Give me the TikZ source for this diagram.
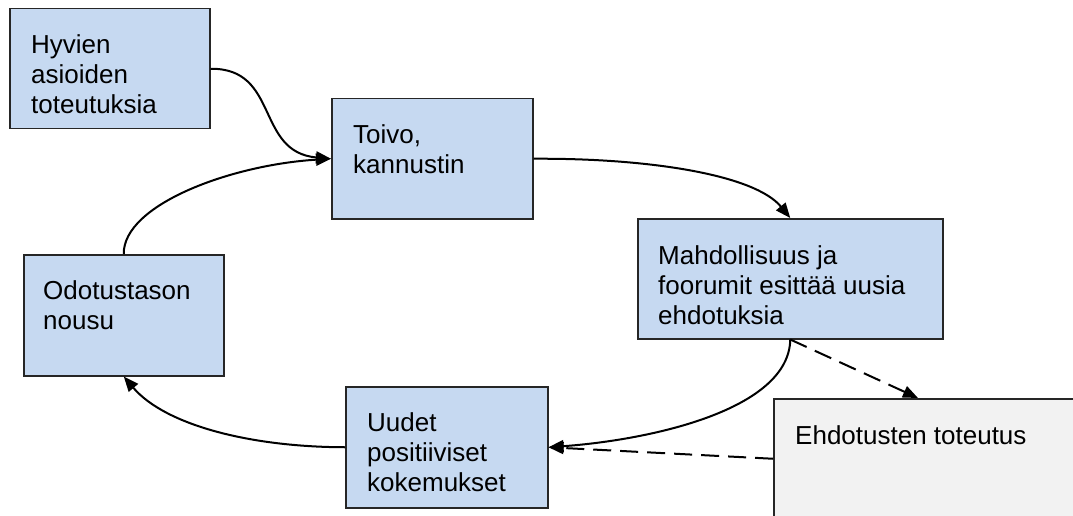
\documentclass[tikz,border=0pt]{standalone}
\usepackage{fontspec}
\setmainfont{Liberation Sans}
\usetikzlibrary{positioning,calc,arrows.meta}

\definecolor{stageblue}{HTML}{C6D9F1}
\definecolor{stagegray}{HTML}{F2F2F2}

\tikzset{
	stage/.style={draw=black!85, line width=1.5pt, fill=stageblue, anchor=north west, inner sep=0pt},
	stagetext/.style={anchor=north west, inner sep=0pt, align=left, font=\fontsize{26}{30}\selectfont},
	flow/.style={line width=2pt, -{Triangle[length=15pt,width=12pt]}},
	sideflow/.style={flow, dash pattern=on 18pt off 9pt},
}

\begin{document}
\begin{tikzpicture}[x=1pt,y=-1pt]
		\useasboundingbox (0,0) rectangle (1073,516);
		\clip (0,0) rectangle (1073,516);
	
		% boxes of the cycle
		\node[stage, minimum width=200pt, minimum height=120pt] (hyvien) at (9,8) {};
		\node[stage, minimum width=201pt, minimum height=120pt] (toivo) at (331,98) {};
		\node[stage, minimum width=305pt, minimum height=120pt] (mahd) at (637,218) {};
		\node[stage, fill=stagegray, minimum width=305pt, minimum height=120pt] (ehdot) at (773,398) {};
		\node[stage, minimum width=202pt, minimum height=121pt] (uudet) at (345,386) {};
		\node[stage, minimum width=200pt, minimum height=121pt] (odot) at (23,254) {};
		
		% texts
		\node[stagetext, below right=26pt and 22pt of hyvien.north west] (hyvientxt) {Hyvien\\asioiden\\toteutuksia};
		\node[stagetext, below right=26pt and 22pt of toivo.north west] (toivotxt) {Toivo,\\kannustin};
		\node[stagetext, below right=27pt and 21pt of mahd.north west] (mahdtxt) {Mahdollisuus ja\\foorumit esittää uusia\\ehdotuksia};
		\node[stagetext, below right=27pt and 22pt of ehdot.north west] (ehdottxt) {Ehdotusten toteutus};
		\node[stagetext, below right=26pt and 22pt of uudet.north west] (uudettxt) {Uudet\\positiiviset\\kokemukset};
		\node[stagetext, below right=26pt and 20pt of odot.north west] (odottxt) {Odotustason\\nousu};
		
		% connectors
		\draw[flow] (hyvien.east) .. controls (280,68) and (255,152) .. (toivo.west);
		\draw[flow] (odot.north) .. controls (123,205) and (230,165) .. (toivo.west);
		\draw[flow] (toivo.east) .. controls (650,158) and (755,175) .. (mahd.north);
		\draw[flow] (mahd.south) .. controls (789,410) and (650,440) .. (uudet.east);
		\draw[flow] (uudet.west) .. controls (250,447) and (165,425) .. (odot.south);
		\draw[sideflow] (mahd.south) -- ($(ehdot.north west)+(145,0)$);
		\draw[sideflow] (ehdot.west) -- (uudet.east);
	\end{tikzpicture}
\end{document}
